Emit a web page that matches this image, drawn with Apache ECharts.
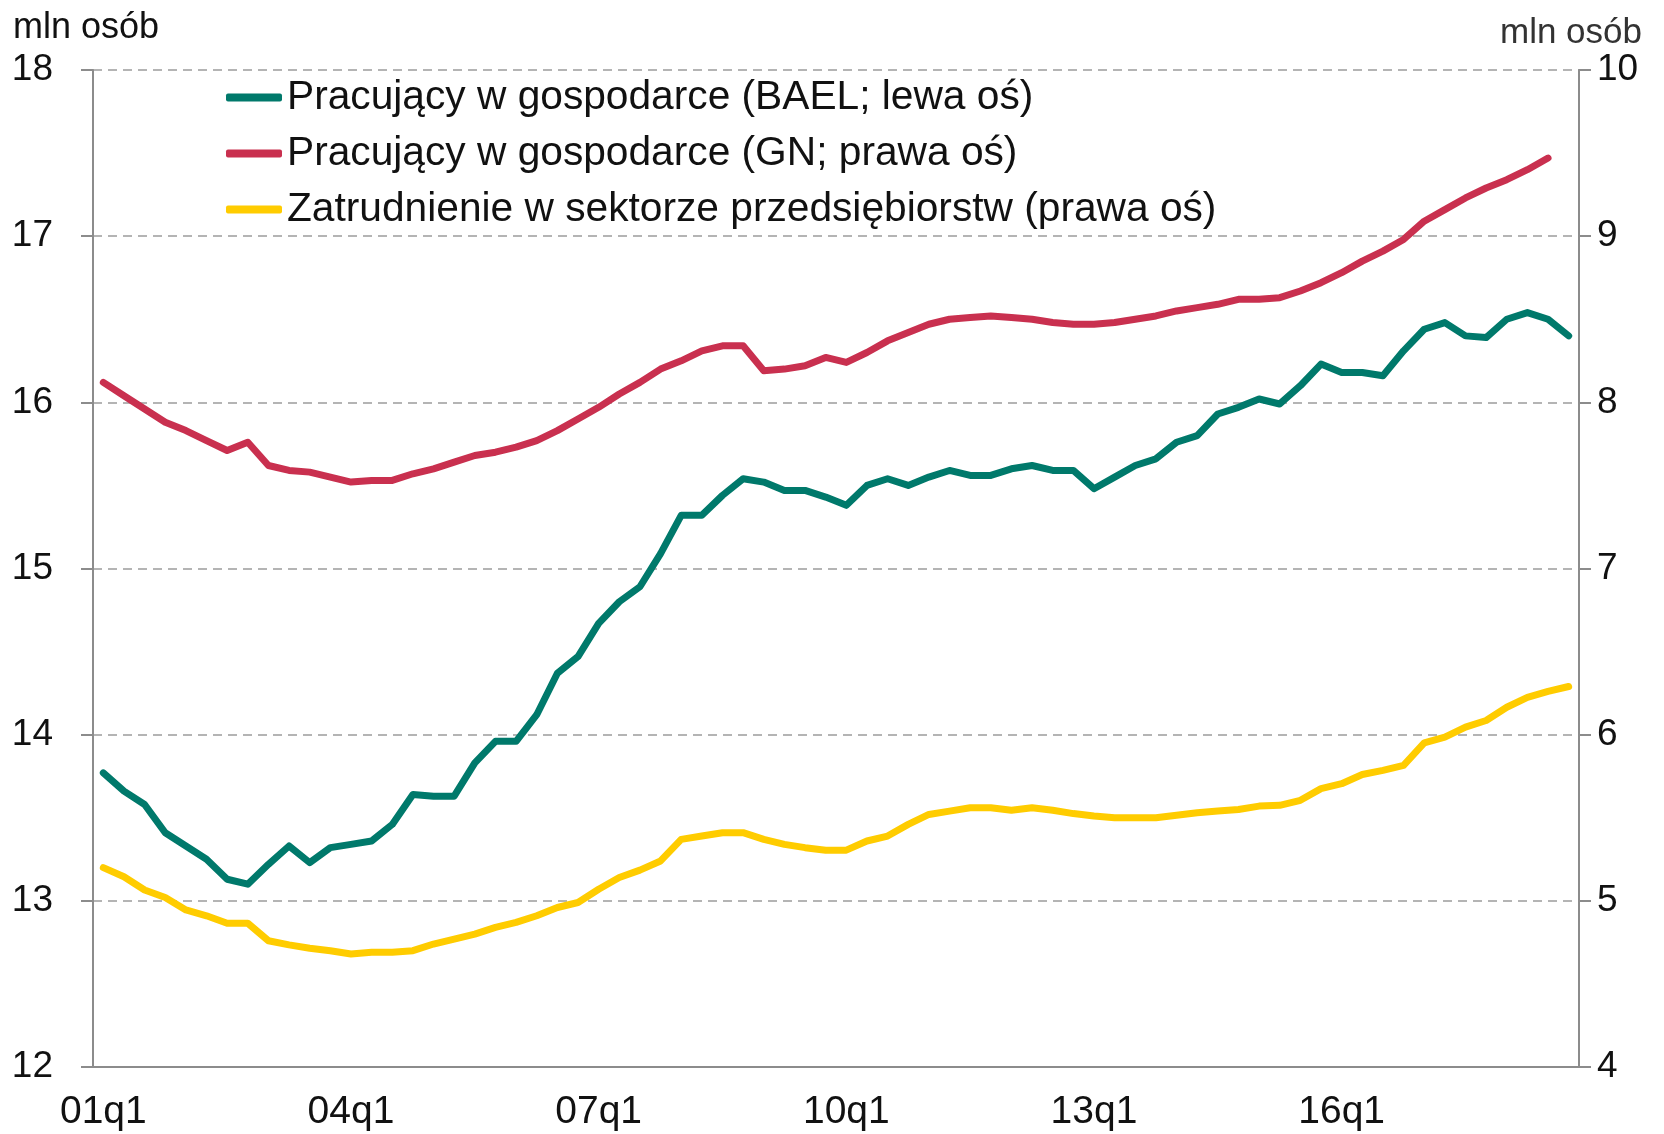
<!DOCTYPE html>
<html>
<head>
<meta charset="utf-8">
<title>Pracujący w gospodarce</title>
<script src="https://cdn.jsdelivr.net/npm/echarts@6/dist/echarts.min.js"></script>
<style>
  html, body {margin: 0; padding: 0; background: #fff;}
  #chart {width: 1664px; height: 1134px;}
</style>
</head>
<body>
<div id="chart"></div>
<script>
// kwartały 01q1 .. 18q4
const quarters = [];
for (let y = 1; y <= 18; y++) {
  for (let q = 1; q <= 4; q++) {
    quarters.push((y < 10 ? '0' : '') + y + 'q' + q);
  }
}

const seriesNames = [
  'Pracujący w gospodarce (BAEL; lewa oś)',
  'Pracujący w gospodarce (GN; prawa oś)',
  'Zatrudnienie w sektorze przedsiębiorstw (prawa oś)'
];

// BAEL, mln osób (lewa oś)
const bael = [
  13.77, 13.66, 13.58, 13.41, 13.33, 13.25, 13.13, 13.10, 13.22, 13.33,
  13.23, 13.32, 13.34, 13.36, 13.46, 13.64, 13.63, 13.63, 13.83, 13.96,
  13.96, 14.12, 14.37, 14.47, 14.67, 14.80, 14.89, 15.09, 15.32, 15.32,
  15.44, 15.54, 15.52, 15.47, 15.47, 15.43, 15.38, 15.50, 15.54, 15.50,
  15.55, 15.59, 15.56, 15.56, 15.60, 15.62, 15.59, 15.59, 15.48, 15.55,
  15.62, 15.66, 15.76, 15.80, 15.93, 15.97, 16.02, 15.99, 16.10, 16.23,
  16.18, 16.18, 16.16, 16.31, 16.44, 16.48, 16.40, 16.39, 16.50, 16.54,
  16.50, 16.40
];

// GN, mln osób (prawa oś)
const gn = [
  8.12, 8.04, 7.96, 7.88, 7.83, 7.77, 7.71, 7.76, 7.62, 7.59,
  7.58, 7.55, 7.52, 7.53, 7.53, 7.57, 7.60, 7.64, 7.68, 7.70,
  7.73, 7.77, 7.83, 7.90, 7.97, 8.05, 8.12, 8.20, 8.25, 8.31,
  8.34, 8.34, 8.19, 8.20, 8.22, 8.27, 8.24, 8.30, 8.37, 8.42,
  8.47, 8.50, 8.51, 8.52, 8.51, 8.50, 8.48, 8.47, 8.47, 8.48,
  8.50, 8.52, 8.55, 8.57, 8.59, 8.62, 8.62, 8.63, 8.67, 8.72,
  8.78, 8.85, 8.91, 8.98, 9.09, 9.16, 9.23, 9.29, 9.34, 9.40,
  9.47, null
];

// sektor przedsiębiorstw, mln osób (prawa oś)
const przedsiebiorstwa = [
  5.20, 5.145, 5.065, 5.02, 4.945, 4.91, 4.865, 4.865, 4.76, 4.735,
  4.715, 4.70, 4.68, 4.69, 4.69, 4.70, 4.74, 4.77, 4.80, 4.84,
  4.87, 4.91, 4.96, 4.99, 5.07, 5.14, 5.185, 5.24, 5.37, 5.39,
  5.41, 5.41, 5.37, 5.34, 5.32, 5.305, 5.305, 5.36, 5.39, 5.46,
  5.52, 5.54, 5.56, 5.56, 5.545, 5.56, 5.545, 5.525, 5.51, 5.50,
  5.50, 5.50, 5.515, 5.53, 5.54, 5.55, 5.57, 5.575, 5.605, 5.675,
  5.705, 5.76, 5.785, 5.815, 5.95, 5.985, 6.045, 6.085, 6.165, 6.225,
  6.26, 6.29
];

const font = 'Liberation Sans, Arial, sans-serif';
const axisColor = '#8c8c8c';

const chart = echarts.init(document.getElementById('chart'));

const option = {
  animation: false,
  textStyle: {fontFamily: font},
  grid: {left: 93, right: 85, top: 70, bottom: 67},
  graphic: [
    {type: 'text', left: 13, top: 10, style: {text: 'mln osób', font: '36px ' + font, fill: '#111'}},
    {type: 'text', left: 1500, top: 16, style: {text: 'mln osób', font: '35px ' + font, fill: '#333'}}
  ],
  legend: {
    orient: 'vertical',
    left: 221,
    top: 72,
    padding: 5,
    itemWidth: 56,
    itemHeight: 8,
    itemGap: 15,
    icon: 'roundRect',
    data: seriesNames,
    textStyle: {fontSize: 40.7, lineHeight: 40, color: '#111', fontFamily: font}
  },
  xAxis: {
    type: 'category',
    data: quarters,
    boundaryGap: true,
    axisLine: {lineStyle: {color: axisColor, width: 2}},
    axisTick: {interval: 11, length: 12, lineStyle: {color: axisColor, width: 2}},
    axisLabel: {interval: 11, margin: 26, fontSize: 39, color: '#111', fontFamily: font},
    splitLine: {show: false}
  },
  yAxis: [
    {
      type: 'value',
      min: 12, max: 18, interval: 1,
      axisLine: {show: true, lineStyle: {color: axisColor, width: 2}},
      axisTick: {show: true, length: 12, lineStyle: {color: axisColor, width: 2}},
      axisLabel: {margin: 40, fontSize: 37, color: '#111', fontFamily: font},
      splitLine: {lineStyle: {color: '#b4b4b4', width: 2, type: [9, 6]}}
    },
    {
      type: 'value',
      min: 4, max: 10, interval: 1,
      position: 'right',
      axisLine: {show: true, lineStyle: {color: axisColor, width: 2}},
      axisTick: {show: true, length: 12, lineStyle: {color: axisColor, width: 2}},
      axisLabel: {margin: 18, fontSize: 37, color: '#111', fontFamily: font},
      splitLine: {show: false}
    }
  ],
  series: [
    {
      name: seriesNames[0], type: 'line', yAxisIndex: 0, data: bael,
      symbol: 'none', color: '#00796b',
      lineStyle: {width: 7, cap: 'round', join: 'round'}
    },
    {
      name: seriesNames[1], type: 'line', yAxisIndex: 1, data: gn,
      symbol: 'none', color: '#c9304f',
      lineStyle: {width: 7, cap: 'round', join: 'round'}
    },
    {
      name: seriesNames[2], type: 'line', yAxisIndex: 1, data: przedsiebiorstwa,
      symbol: 'none', color: '#ffcc00',
      lineStyle: {width: 7, cap: 'round', join: 'round'}
    }
  ]
};

chart.setOption(option);
</script>
</body>
</html>
